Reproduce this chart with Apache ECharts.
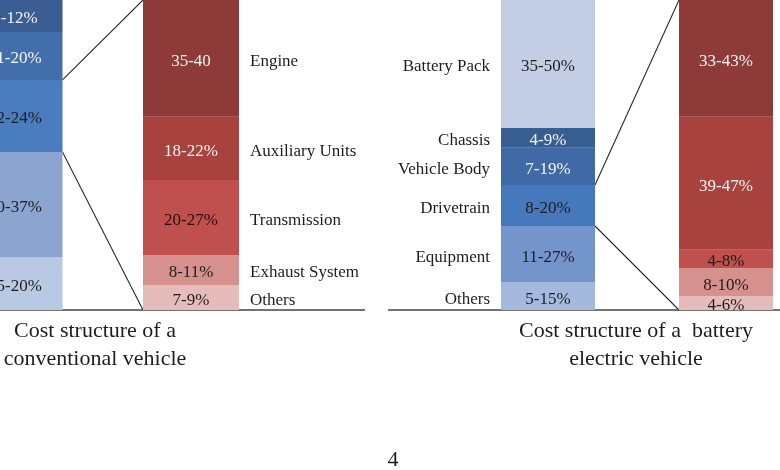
<!DOCTYPE html>
<html>
<head>
<meta charset="utf-8">
<script src="https://cdn.jsdelivr.net/npm/echarts@6/dist/echarts.min.js"></script>
<style>
  html, body { margin: 0; padding: 0; background: #fff; }
  #chart { width: 780px; height: 470px; }
</style>
</head>
<body>
<div id="chart"></div>
<script>
// all stacks listed bottom -> top, shares in % of bar height

// conventional vehicle (names cut off in the picture)
var convNames = ['Others', 'Equipment', 'Powertrain', 'Vehicle Body', 'Chassis'];
var convRanges = ['15-20%', '30-37%', '22-24%', '11-20%', '8-12%'];
var convShares = [17.1, 33.9, 23.2, 15.5, 10.3];

// powertrain of the conventional vehicle
var ptNames = ['Others', 'Exhaust System', 'Transmission', 'Auxiliary Units', 'Engine'];
var ptRanges = ['7-9%', '8-11%', '20-27%', '18-22%', '35-40'];
var ptShares = [8.1, 9.6, 24.2, 20.4, 37.7];

// battery electric vehicle
var bevNames = ['Others', 'Equipment', 'Drivetrain', 'Vehicle Body', 'Chassis', 'Battery Pack'];
var bevRanges = ['5-15%', '11-27%', '8-20%', '7-19%', '4-9%', '35-50%'];
var bevShares = [9.0, 18.1, 13.2, 12.0, 6.4, 41.3];

// drivetrain of the battery electric vehicle
var dtRanges = ['4-6%', '8-10%', '4-8%', '39-47%', '33-43%'];
var dtShares = [4.5, 9.0, 5.9, 42.9, 37.7];

var DARK = '#1e1e1e';
var LIGHT = '#f4f4f4';
var FONT = '"Liberation Serif", "DejaVu Serif", serif';

// first bar is cut by the left edge: small grid, wide bar centred on it
var grids = [
  {left: 0, top: 0, width: 30, height: 310},
  {left: 143, top: 0, width: 96, height: 310},
  {left: 501, top: 0, width: 94, height: 310},
  {left: 679, top: 0, width: 94, height: 310}
];
var barWidths = [95, 96, 94, 94];

var bars = [
  {shares: convShares, ranges: convRanges, names: null,
    colors: ['#b9c8e3', '#8ca5d0', '#4a7dbf', '#426eab', '#3a5e94'],
    text: [DARK, DARK, DARK, LIGHT, LIGHT]},
  {shares: ptShares, ranges: ptRanges, names: ptNames, namePos: 'right',
    colors: ['#e6bcbb', '#d6918f', '#c0504d', '#a8423f', '#8e3a38'],
    text: [DARK, DARK, '#2a0c0c', LIGHT, LIGHT]},
  {shares: bevShares, ranges: bevRanges, names: bevNames, namePos: 'left',
    colors: ['#a5b8dd', '#7495cc', '#4679bb', '#3f6aa6', '#375e93', '#c3cee4'],
    text: [DARK, DARK, DARK, LIGHT, LIGHT, DARK]},
  {shares: dtShares, ranges: dtRanges, names: null,
    colors: ['#e6bcbb', '#d6918f', '#c0504d', '#a8423f', '#8e3a38'],
    text: [DARK, DARK, DARK, LIGHT, LIGHT]}
];

function $each(arr, fn) {
  for (var i = 0; i < arr.length; i++) fn(arr[i], i);
}

function sum(arr, n) {
  var s = 0;
  for (var i = 0; i < n; i++) s += arr[i];
  return s;
}

function buildSeries() {
  var series = [];
  $each(bars, function (b, g) {
    $each(b.shares, function (v, i) {
      series.push({
        type: 'bar',
        xAxisIndex: g,
        yAxisIndex: g,
        stack: 'seg' + g,
        barWidth: barWidths[g],
        barGap: '-100%',
        clip: false,
        data: [v],
        itemStyle: {color: b.colors[i]},
        label: {
          show: true,
          position: 'inside',
          offset: [0, 3],
          formatter: b.ranges[i],
          color: b.text[i],
          fontFamily: FONT,
          fontSize: 17
        },
        silent: true
      });
    });
    if (b.names) {
      // transparent twin stack carrying the part names beside the bar
      $each(b.shares, function (v, i) {
        series.push({
          type: 'bar',
          xAxisIndex: g,
          yAxisIndex: g,
          stack: 'name' + g,
          barWidth: barWidths[g],
          barGap: '-100%',
          clip: false,
          data: [v],
          itemStyle: {color: 'rgba(0,0,0,0)'},
          label: {
            show: true,
            position: b.namePos,
            distance: 11,
            offset: [0, 3],
            formatter: b.names[i],
            color: DARK,
            fontFamily: FONT,
            fontSize: 17
          },
          silent: true
        });
      });
    }
  });
  return series;
}

var myChart = echarts.init(document.getElementById('chart'));

var xAxes = [], yAxes = [];
$each(grids, function (gr, g) {
  xAxes.push({type: 'category', gridIndex: g, data: ['x'], show: false});
  yAxes.push({type: 'value', gridIndex: g, min: 0, max: 100, show: false});
});

myChart.setOption({
  animation: false,
  grid: grids,
  xAxis: xAxes,
  yAxis: yAxes,
  series: buildSeries()
});

// zoom lines + baselines + captions
function px(g) {
  return myChart.convertToPixel({xAxisIndex: g, yAxisIndex: g}, ['x', 0])[0];
}
function py(g, v) {
  return myChart.convertToPixel({xAxisIndex: g, yAxisIndex: g}, ['x', v])[1];
}
function rightEdge(g) { return px(g) + barWidths[g] / 2; }
function leftEdge(g) { return px(g) - barWidths[g] / 2; }

var lineStyle = {stroke: '#2a2a2a', lineWidth: 1.1};
var base = py(0, 0);
var graphics = [
  // conventional: powertrain segment -> detail bar
  {type: 'line', shape: {x1: rightEdge(0), y1: py(0, sum(convShares, 3)), x2: leftEdge(1), y2: py(1, 100)}, style: lineStyle},
  {type: 'line', shape: {x1: rightEdge(0), y1: py(0, sum(convShares, 2)), x2: leftEdge(1), y2: py(1, 0)}, style: lineStyle},
  // bev: drivetrain segment -> detail bar
  {type: 'line', shape: {x1: rightEdge(2), y1: py(2, sum(bevShares, 3)), x2: leftEdge(3), y2: py(3, 100)}, style: lineStyle},
  {type: 'line', shape: {x1: rightEdge(2), y1: py(2, sum(bevShares, 2)), x2: leftEdge(3), y2: py(3, 0)}, style: lineStyle},
  // baselines
  {type: 'line', shape: {x1: 0, y1: base, x2: 365, y2: base}, style: {stroke: '#444', lineWidth: 1.5}},
  {type: 'line', shape: {x1: 388, y1: base, x2: 780, y2: base}, style: {stroke: '#444', lineWidth: 1.5}},
  {type: 'text', x: 95, y: 345, style: {text: 'Cost structure of a\nconventional vehicle', align: 'center', verticalAlign: 'middle', font: '22px ' + FONT, lineHeight: 28, fill: DARK}},
  {type: 'text', x: 636, y: 345, style: {text: 'Cost structure of a  battery\nelectric vehicle', align: 'center', verticalAlign: 'middle', font: '22px ' + FONT, lineHeight: 28, fill: DARK}},
  {type: 'text', x: 393, y: 460, style: {text: '4', align: 'center', verticalAlign: 'middle', font: '22px ' + FONT, fill: DARK}}
];
myChart.setOption({graphic: graphics});
</script>
</body>
</html>
